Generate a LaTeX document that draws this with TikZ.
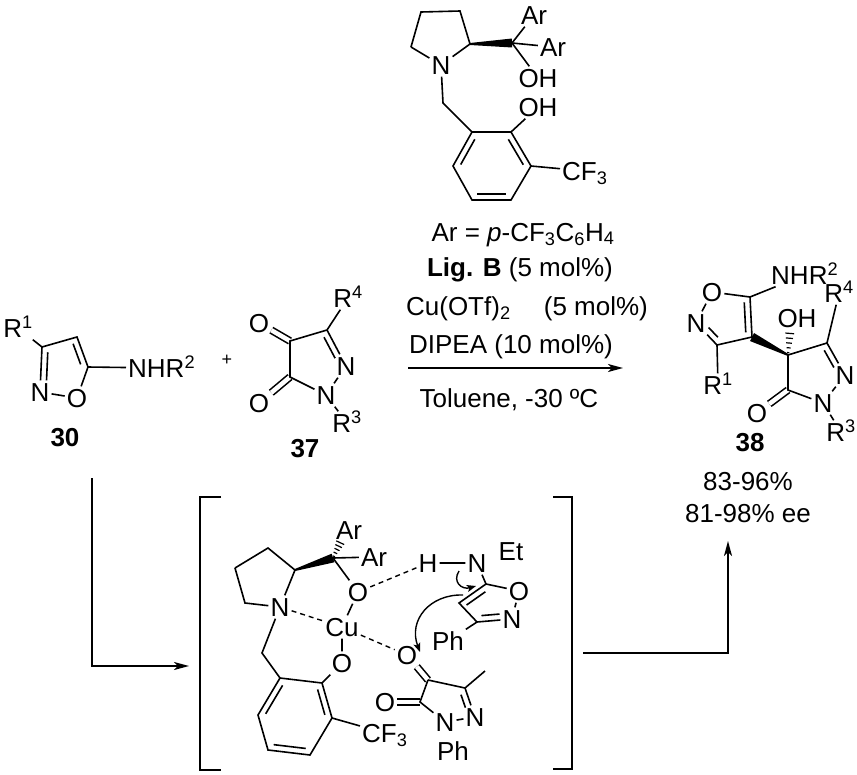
\documentclass[tikz,border=0pt]{standalone}
\usepackage{fontspec}
\setmainfont{Liberation Sans}
\usetikzlibrary{calc,arrows.meta}

\tikzset{
  every node/.style={font=\fontsize{26}{30}\selectfont},
  atom/.style={inner sep=2pt,text height=19pt,text depth=0pt},
  bond/.style={line width=1.6pt},
  dblb/.style={bond,double,double distance=4.5pt},
  hbond/.style={line width=1.4pt,dash pattern=on 5pt off 4pt},
  cmpd/.style={font=\fontsize{26}{30}\selectfont\bfseries},
  rxn/.style={line width=1.5pt,-{Stealth[length=15pt,width=8pt,inset=4pt]}},
  push/.style={line width=1.4pt,-{Stealth[length=9pt,width=7pt,inset=2pt]}},
}
% inner line of a ring double bond
\newcommand{\dbl}[4]{\draw[bond,shorten <=#3,shorten >=#4] ($(#1)!6pt!90:(#2)$) -- ($(#2)!6pt!-90:(#1)$);}
% wedge, narrow at #1
\newcommand{\wdg}[2]{\fill ($(#1)!1pt!90:(#2)$) -- ($(#2)!4.5pt!-90:(#1)$) -- ($(#2)!4.5pt!90:(#1)$) -- ($(#1)!1pt!-90:(#2)$) -- cycle;}
% hashed bond, narrow at #1
\newcommand{\hsh}[2]{\foreach \p/\w in {0.1/1.2,0.3/2,0.5/2.8,0.7/3.6,0.9/4.4}{
  \coordinate (hh) at ($(#1)!\p!(#2)$);
  \draw[line width=1.2pt] ($(hh)!\w pt!90:(#2)$) -- ($(hh)!\w pt!-90:(#2)$);}}

\begin{document}
\begin{tikzpicture}[x=1pt,y=-1pt]
\useasboundingbox (0,0) rectangle (857,774);

% Ligand B
\coordinate (lp1) at (421,12);
\coordinate (lp2) at (460,11);
\coordinate (lp3) at (470,44);
\node[atom] (lN) at (441,65) {N};
\coordinate (lp5) at (411,47);
\coordinate (lq) at (512,43);
\node[atom] (lAr1) at (534,15) {Ar};
\node[atom] (lAr2) at (553,47) {Ar};
\node[atom] (lOH1) at (538,78) {OH};
\coordinate (lch) at (443,103);
\coordinate (lb1) at (472,132);
\coordinate (lb2) at (511,132);
\coordinate (lb3) at (531,166);
\coordinate (lb4) at (511,200);
\coordinate (lb5) at (472,200);
\coordinate (lb6) at (453,166);
\node[atom] (lOH2) at (538,107) {OH};
\node[atom,anchor=west] (lCF) at (560,171) {CF\textsubscript{3}};
\draw[bond] (lp5) -- (lp1) -- (lp2) -- (lp3) -- (lN) -- (lp5);
\wdg{lp3}{lq}
\draw[bond] (lq) -- (lAr1);
\draw[bond] (lq) -- (lAr2);
\draw[bond] (lq) -- (lOH1);
\draw[bond] (lN) -- (lch) -- (lb1);
\draw[bond] (lb1) -- (lb2) -- (lb3) -- (lb4) -- (lb5) -- (lb6) -- cycle;
\draw[bond] (lb2) -- (lOH2);
\draw[bond] (lb3) -- (lCF);
\dbl{lb1}{lb6}{5pt}{5pt}
\dbl{lb5}{lb4}{5pt}{5pt}
\dbl{lb3}{lb2}{5pt}{5pt}

% Conditions
\node[anchor=base] (cnd1) at (523,241) {Ar = \textit{p}-CF\textsubscript{3}C\textsubscript{6}H\textsubscript{4}};
\node[anchor=base] (cnd2) at (520,276) {\textbf{Lig. B} (5 mol\%)};
\node[anchor=base] (cnd3) at (527,315) {Cu(OTf)\textsubscript{2}\quad\ (5 mol\%)};
\node[anchor=base] (cnd4) at (511,353) {DIPEA (10 mol\%)};
\node[anchor=base] (cnd5) at (509,407) {Toluene, -30 ºC};
\coordinate (arrA) at (408,368);
\coordinate (arrB) at (623,368);
\draw[rxn] (arrA) -- (arrB);

% 30
\node[atom] (aR) at (18,328) {R\textsuperscript{1}};
\coordinate (a3) at (42,347);
\coordinate (a4) at (77,337);
\coordinate (a5) at (88,367);
\node[atom] (aO) at (77,398) {O};
\node[atom] (aN) at (40,392) {N};
\node[atom,anchor=west] (aNH) at (126,368) {NHR\textsuperscript{2}};
\draw[bond] (aR) -- (a3) -- (aN) -- (aO) -- (a5) -- (a4) -- (a3);
\draw[bond] (a5) -- (aNH);
\dbl{a3}{aN}{5pt}{12pt}
\dbl{a5}{a4}{5pt}{5pt}
\node[cmpd,anchor=base] (c30) at (65,446) {30};
\node (plus) at (227,360) {\fontsize{18}{20}\selectfont +};

% 37
\node[atom] (bR4) at (348,298) {R\textsuperscript{4}};
\coordinate (b3) at (327,330);
\coordinate (b4) at (290,341);
\coordinate (b5) at (290,377);
\node[atom] (bN2) at (346,366) {N};
\node[atom] (bN1) at (326,395) {N};
\node[atom] (bR3) at (347,423) {R\textsuperscript{3}};
\node[atom] (bO4) at (259,323) {O};
\node[atom] (bO5) at (259,403) {O};
\draw[dblb] (b4) -- (bO4);
\draw[dblb] (b5) -- (bO5);
\draw[bond] (b3) -- (b4) -- (b5) -- (bN1) -- (bN2) -- (b3) -- (bR4);
\draw[bond] (bN1) -- (bR3);
\dbl{bN2}{b3}{12pt}{5pt}
\node[cmpd,anchor=base] (c37) at (305,457) {37};

% 38
\node[atom] (pO1) at (712,292) {O};
\node[atom] (pN) at (696,323) {N};
\coordinate (p3) at (717,345);
\coordinate (p4) at (752,337);
\coordinate (p5) at (750,297);
\node[atom,anchor=west] (pNH) at (769,275) {NHR\textsuperscript{2}};
\node[atom] (pR1) at (718,385) {R\textsuperscript{1}};
\coordinate (pq) at (788,355);
\node[atom] (pOH) at (797,318) {OH};
\coordinate (pOHe) at (790,331);
\coordinate (p3b) at (827,343);
\node[atom] (pR4) at (839,293) {R\textsuperscript{4}};
\node[atom] (pN2) at (845,375) {N};
\node[atom] (pN1) at (823,403) {N};
\coordinate (p5b) at (788,390);
\node[atom] (pO) at (757,413) {O};
\node[atom] (pR3) at (841,432) {R\textsuperscript{3}};
\draw[dblb] (p5b) -- (pO);
\draw[bond] (pO1) -- (pN) -- (p3) -- (p4) -- (p5) -- (pO1);
\draw[bond] (p5) -- (pNH);
\draw[bond] (p3) -- (pR1);
\wdg{pq}{p4}
\hsh{pq}{pOHe}
\draw[bond] (pq) -- (p3b) -- (pN2) -- (pN1) -- (p5b) -- (pq);
\draw[bond] (p3b) -- (pR4);
\draw[bond] (pN1) -- (pR3);
\dbl{pN}{p3}{12pt}{5pt}
\dbl{p4}{p5}{5pt}{5pt}
\dbl{pN2}{p3b}{12pt}{5pt}
\node[cmpd,anchor=base] (c38) at (750,451) {38};
\node[anchor=base] (yld) at (748,490) {83-96\%};
\node[anchor=base] (ee) at (748,522) {81-98\% ee};

% Arrows round the complex
\coordinate (la1) at (92,478);
\coordinate (la2) at (92,666);
\coordinate (la3) at (189,666);
\draw[rxn] (la1) -- (la2) -- (la3);
\coordinate (ra1) at (583,653);
\coordinate (ra2) at (728,653);
\coordinate (ra3) at (728,541);
\draw[rxn] (ra1) -- (ra2) -- (ra3);

% Brackets
\draw[line width=1.4pt] (221,497) -- (200,497) -- (200,770) -- (221,770);
\draw[line width=1.4pt] (553,497) -- (572,497) -- (572,769) -- (553,769);

% Cu complex
\coordinate (t1) at (235,568);
\coordinate (t2) at (268,548);
\coordinate (t3) at (295,570);
\node[atom] (tN) at (280,607) {N};
\coordinate (t5) at (245,603);
\coordinate (tq) at (333,558);
\node[atom] (tAr1) at (349,530) {Ar};
\coordinate (tAre) at (341,541);
\node[atom] (tAr2) at (374,557) {Ar};
\node[atom] (tO1) at (358,592) {O};
\node[atom] (tCu) at (342,627) {Cu};
\node[atom] (tO2) at (342,663) {O};
\coordinate (tch) at (262,653);
\coordinate (tc1) at (280,678);
\coordinate (tc2) at (322,683);
\coordinate (tc3) at (332,718);
\coordinate (tc4) at (310,755);
\coordinate (tc5) at (268,750);
\coordinate (tc6) at (258,715);
\node[atom,anchor=west] (tCF) at (360,733) {CF\textsubscript{3}};
\draw[bond] (t1) -- (t2) -- (t3) -- (tN) -- (t5) -- (t1);
\wdg{t3}{tq}
\hsh{tq}{tAre}
\draw[bond] (tq) -- (tAr2);
\draw[bond] (tq) -- (tO1) -- (tCu) -- (tO2) -- (tc2);
\draw[bond] (tN) -- (tch) -- (tc1);
\draw[bond] (tc1) -- (tc2) -- (tc3) -- (tc4) -- (tc5) -- (tc6) -- cycle;
\draw[bond] (tc3) -- (tCF);
\dbl{tc1}{tc6}{5pt}{5pt}
\dbl{tc5}{tc4}{5pt}{5pt}
\dbl{tc3}{tc2}{5pt}{5pt}

% isoxazole in the complex
\node[atom] (iH) at (428,563) {H};
\node[atom] (iN) at (477,563) {N};
\node[atom] (iEt) at (511,551) {Et};
\coordinate (i5) at (486,584);
\coordinate (i4) at (459,603);
\coordinate (i3) at (477,622);
\node[atom] (iO) at (519,591) {O};
\node[atom] (iN2) at (512,619) {N};
\node[atom] (iPh) at (448,641) {Ph};
\draw[bond] (iH) -- (iN) -- (i5);
\draw[bond] (i5) -- (iO) -- (iN2) -- (i3) -- (i4) -- (i5);
\draw[bond] (i3) -- (iPh);
\dbl{i5}{i4}{5pt}{5pt}
\dbl{i3}{iN2}{5pt}{12pt}

% pyrazoledione in the complex
\node[atom] (zO4) at (407,655) {O};
\coordinate (z4) at (428,680);
\coordinate (z3) at (465,688);
\coordinate (zMe) at (485,671);
\node[atom] (zN2) at (475,717) {N};
\node[atom] (zN1) at (445,722) {N};
\node[atom] (zPh) at (453,751) {Ph};
\coordinate (z5) at (420,702);
\node[atom] (zO5) at (385,702) {O};
\draw[dblb] (z4) -- (zO4);
\draw[dblb] (z5) -- (zO5);
\draw[bond] (z4) -- (z3) -- (zN2) -- (zN1) -- (z5) -- (z4);
\draw[bond] (z3) -- (zMe);
\dbl{zN2}{z3}{12pt}{5pt}

% contacts
\draw[hbond] (tN) -- (tCu);
\draw[hbond] (tCu) -- (zO4);
\draw[hbond] (tO1) -- (iH);

% electron pushing
\coordinate (e1) at (459,571);
\coordinate (e2) at (476,586);
\coordinate (e3) at (463,595);
\coordinate (e4) at (420,652);
\draw[push] (e1) .. controls (452,582) and (462,590) .. (e2);
\draw[push] (e3) .. controls (430,594) and (408,620) .. (e4);
\end{tikzpicture}
\end{document}
